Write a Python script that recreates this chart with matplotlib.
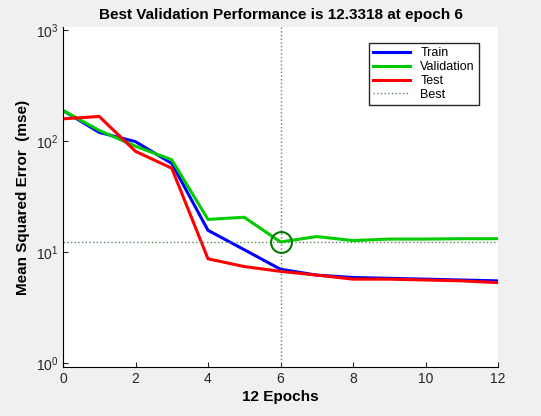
import numpy as np
import matplotlib.pyplot as plt

plt.rcParams['font.family'] = ['Liberation Sans', 'DejaVu Sans']

epochs = np.arange(0, 13)
train = [189, 120, 99, 63, 15.7, 10.5, 7.0, 6.2, 5.9, 5.8, 5.7, 5.6, 5.5]
validation = [189, 125, 90, 68, 19.7, 20.6, 12.3318, 13.8, 12.7, 13.1, 13.1, 13.2, 13.2]
test = [159, 167, 81, 57, 8.7, 7.4, 6.7, 6.2, 5.7, 5.7, 5.6, 5.5, 5.3]
best_epoch = 6
best_val = 12.3318

fig = plt.figure(figsize=(5.41, 4.16), dpi=100, facecolor='#f0f0f0')
ax = fig.add_axes([63/541, 1 - 367/416, 435/541, 340/416])

ax.semilogy(epochs, train, color='#0000ff', lw=2.2, label='Train')
ax.semilogy(epochs, validation, color='#00cc00', lw=2.2, label='Validation')
ax.semilogy(epochs, test, color='#ff0000', lw=2.2, label='Test')
ax.axvline(best_epoch, color='#5a8a5a', ls=':', lw=1, label='Best')
ax.axhline(best_val, color='#5a8a5a', ls=':', lw=1)
ax.plot(best_epoch, best_val, 'o', ms=15, mfc='none', mec='#007a00', mew=1.5)

ax.set_xlim(0, 12)
ax.set_ylim(0.92, 1070)
ax.set_xticks(range(0, 13, 2))
ax.tick_params(direction='in', which='both', labelsize=10, colors='#262626', top=False, right=False)
ax.minorticks_off()
for s in ['top', 'right']:
    ax.spines[s].set_visible(False)

ax.set_title('Best Validation Performance is 12.3318 at epoch 6', fontsize=11, fontweight='bold', pad=6)
ax.set_xlabel('12 Epochs', fontsize=11, fontweight='bold', labelpad=3)
ax.set_ylabel('Mean Squared Error  (mse)', fontsize=11, fontweight='bold')

leg = ax.legend(loc='upper right', bbox_to_anchor=(0.97, 0.97), fontsize=9, fancybox=False,
                framealpha=1, edgecolor='#262626', handlelength=3, borderpad=0.3, labelspacing=0.15)

fig.savefig('out.png', facecolor=fig.get_facecolor())
